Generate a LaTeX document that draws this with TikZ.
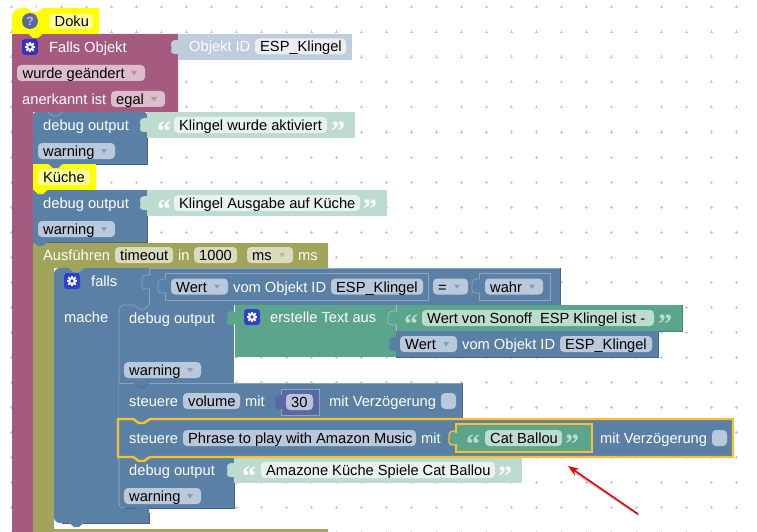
\documentclass[tikz,border=0pt]{standalone}
\usepackage{fontspec}
\setmainfont{Liberation Sans}
\newfontfamily\rsqf{Liberation Serif}[BoldFont={Liberation Serif Bold}]
\usetikzlibrary{arrows.meta,calc}
\definecolor{cblue}{HTML}{5B80A5}
\definecolor{cbluel}{HTML}{8CA6C0}
\definecolor{cblued}{HTML}{486684}
\definecolor{cfb}{HTML}{BAC8DB}
\definecolor{cpink}{HTML}{A55B80}
\definecolor{cfp}{HTML}{DBBDCC}
\definecolor{colive}{HTML}{A0A55B}
\definecolor{cfo}{HTML}{D9DBBD}
\definecolor{cgreen}{HTML}{5BA58C}
\definecolor{cfg}{HTML}{BEDBD0}
\definecolor{clg}{HTML}{BEDBD0}
\definecolor{cflg}{HTML}{E8F2EE}
\definecolor{cpale}{HTML}{BFCCDC}
\definecolor{cfpale}{HTML}{EAEFF4}
\definecolor{cyel}{HTML}{FFFF00}
\definecolor{cfy}{HTML}{FFFF99}
\definecolor{cpurple}{HTML}{5B67A5}
\definecolor{cfpu}{HTML}{BDC2DB}
\definecolor{chl}{HTML}{FBC02D}
\definecolor{cdot}{HTML}{C8C8C8}
\definecolor{cind}{HTML}{3A2FC0}
\definecolor{cico}{HTML}{2F3FD0}
\tikzset{
  x=1pt,y=-1pt,
  lab/.style={inner sep=0pt,anchor=base west,text=white,font=\fontsize{14.67}{16}\selectfont},
  ftxt/.style={inner sep=0pt,anchor=base west,text=black,font=\fontsize{14.67}{16}\selectfont},
  qt/.style={inner sep=0pt,anchor=base west,font=\rsqf\bfseries\fontsize{28}{28}\selectfont},
  hl/.style={draw=chl,line width=2.4pt,line join=miter},
}
% label: name x yc text
\newcommand\rsL[4]{\node[lab] (#1) at (#2,#3+5.5) {#4};}
% field: name x1 x2 yc fill text
\newcommand\rsF[6]{\fill[#5,rounded corners=4pt] (#2,#4-8) rectangle (#3,#4+8);
  \node[ftxt] (#1) at (#2+5,#4+5.5) {#6};}
% dropdown triangle
\newcommand\rsD[3]{\fill[#3] (#1-3,#2-2) -- (#1+3,#2-2) -- (#1,#2+2.5) -- cycle;}
% bottom notch
\newcommand\rsN[3]{\fill[#3] (#1+15,#2-0.5) -- (#1+20,#2+4) -- (#1+25,#2+4) -- (#1+30,#2-0.5) -- cycle;}
% notch outline on same-colour blocks
\newcommand\rsNL[2]{\draw[cbluel,line width=.7pt] (#1+15,#2) -- (#1+20,#2+4) -- (#1+25,#2+4) -- (#1+30,#2);}
% value tab: x y colour
\newcommand\rsT[3]{\fill[#3,rounded corners=1.5pt] (#1+1,#2+6) -- (#1-4,#2+6) -- (#1-7,#2+8) -- (#1-7,#2+12) -- (#1-6,#2+14) -- (#1-7,#2+16) -- (#1-7,#2+19) -- (#1-4,#2+20) -- (#1+1,#2+20) -- cycle;}
% outlined tab
\newcommand\rsTL[3]{\filldraw[fill=#3,draw=cbluel,line width=.7pt,rounded corners=1.5pt] (#1+1,#2+6) -- (#1-4,#2+6) -- (#1-7,#2+8) -- (#1-7,#2+19) -- (#1-4,#2+20) -- (#1+1,#2+20);}
% quotes: name x yc text colour
\newcommand\rsQ[5]{\node[qt,text=#5] (#1) at (#2-1,#3+15) {#4};}
% gear icon
\newcommand\rsG[3]{\fill[#3,rounded corners=3pt] (#1-8,#2-8) rectangle (#1+8,#2+8);
  \foreach \a in {0,45,...,315}{\draw[white,line width=2pt] (#1,#2) -- ++(\a:5.2);}
  \fill[white] (#1,#2) circle (4);\fill[#3] (#1,#2) circle (1.9);}
\begin{document}
\begin{tikzpicture}
\useasboundingbox (0,0) rectangle (757,532);
\fill[white] (0,0) rectangle (757,532);
% grid
\foreach \i in {0,...,29}{\foreach \j in {0,...,21}{
  \draw[cdot,line width=.5pt] ({11+25*\i-1.5},{7+25*\j}) -- ++(3,0) ({11+25*\i},{7+25*\j-1.5}) -- ++(0,3);}}
% pink block
\fill[cpink] (12,34) -- (178,34) -- (178,112) -- (33,112) -- (33,532) -- (12,532) -- cycle;
% Doku
\fill[cyel,rounded corners=2pt] (12,34) -- (12,14) -- (18,8) -- (99,8) -- (99,34) -- cycle;
\fill[white] (27,7.5) -- (32,12) -- (38,12) -- (43,7.5) -- cycle;
\rsN{13}{34}{cyel}
\fill[cfy,rounded corners=4pt] (49,14) rectangle (93,29);
\node[ftxt] (doku) at (54.5,26.5) {Doku};
\fill[cpurple] (30,21) circle (8);
\node[inner sep=0pt,text=cfpu,font=\bfseries\fontsize{12}{12}\selectfont] (help) at (30,21) {?};
% Falls Objekt
\rsG{30}{47}{cind}
\rsL{fo}{49}{47}{Falls Objekt}
\rsF{wg}{17}{145}{73}{cfp}{\hspace{0.5pt}wurde geändert}
\rsD{134}{73}{cpink!70!white}
\rsL{ai}{22}{99}{anerkannt ist}
\rsF{eg}{111}{165}{99}{cfp}{egal}
\rsD{154}{99}{cpink!70!white}
% Objekt ID
\fill[cpale] (178,34) rectangle (352,60);
\rsT{178}{34}{cpale}
\rsL{oid}{189}{46.5}{Objekt ID}
\rsF{oidv}{255}{346}{46.5}{cfpale}{ESP\_Klingel}
% debug 1
\fill[cblue,rounded corners=3pt] (33,164) -- (33,112) -- (147,112) -- (147,164) -- cycle;
\fill[cblue] (33,160) rectangle (147,164);
\draw[cblued,line width=.6pt] (147,112) -- (147,164) -- (33,164);
\fill[clg] (147,112) rectangle (355,138);
\rsT{147}{112}{clg}
\rsNL{33}{112}
\rsL{d1}{43}{125}{debug output}
\rsQ{q1a}{158}{125}{“}{white}
\rsF{d1v}{174}{327}{125}{cflg}{Klingel wurde aktiviert}
\rsQ{q1b}{332}{125}{”}{white}
\rsF{w1}{38}{115}{151}{cfb}{warning}
\rsD{104}{151}{cblue!75!white}
% Küche
\fill[cyel] (33,164) rectangle (96,190);
\rsN{33}{164}{cblue}
\fill[cfy,rounded corners=4pt] (38,169) rectangle (90,185);
\node[ftxt] (kue) at (43,182.5) {Küche};
% debug 2
\fill[cblue] (33,190) rectangle (147,242);
\draw[cblued,line width=.6pt] (147,190) -- (147,242) -- (33,242);
\rsN{18}{190}{cyel}
\fill[clg] (147,190) rectangle (387,216);
\rsT{147}{190}{clg}
\rsL{d2}{43}{203}{debug output}
\rsQ{q2a}{158}{203}{“}{white}
\rsF{d2v}{174}{360}{203}{cflg}{Klingel Ausgabe auf Küche}
\rsQ{q2b}{364}{203}{”}{white}
\rsF{w2}{38}{115}{229}{cfb}{warning}
\rsD{104}{229}{cblue!75!white}
% olive
\fill[colive] (33,243) -- (328,243) -- (328,268) -- (54,268) -- (54,529) -- (328,529) -- (328,532) -- (33,532) -- cycle;
\rsN{18}{242}{cblue}
\rsL{au}{43}{255}{Ausführen}
\rsF{to}{115}{173}{255}{cfo}{timeout}
\rsL{in}{178}{255}{in}
\rsF{tv}{194}{237}{255}{cfo}{1000}
\rsF{tu}{247}{293}{255}{cfo}{ms}
\rsD{282}{255}{colive!75!white}
\rsL{ms}{298}{255}{ms}
% falls (blue C)
\fill[cblue,rounded corners=6pt] (149,268) -- (54,268) -- (54,523) -- (149,523);
\fill[cblue] (70,268) rectangle (149,305) (110,268) rectangle (119,513) (70,305) rectangle (119,523) (119,513) rectangle (149,523);
\draw[cblued,line width=.6pt] (149,513) -- (149,523) -- (62,523);
\rsN{54}{268}{colive}
\draw[cbluel,line width=.7pt] (69,268) -- (74,272) -- (79,272) -- (84,268);
\rsN{54}{523}{cblue}
\rsG{72}{281}{cico}
\rsL{fl}{91}{281}{falls}
\rsL{ma}{64}{317}{mache}
% condition
\fill[cblue] (149,268) rectangle (560,305);
\draw[cbluel,line width=.7pt] (149,268) -- (560,268);
\draw[cblued,line width=.6pt] (560,268) -- (560,305) -- (234,305);
\draw[cbluel,line width=.7pt] (149,268) -- (149,305);
\rsTL{149}{269}{cblue}
\draw[cbluel,line width=.7pt] (165,273) rectangle (428,300);
\rsTL{165}{273}{cblue}
\rsF{wv}{171}{228}{286.5}{cfb}{Wert}
\rsD{217}{286.5}{cblue!75!white}
\rsL{vo}{233}{286.5}{vom Objekt ID}
\rsF{wid}{331}{423}{286.5}{cfb}{ESP\_Klingel}
\rsF{eq}{433}{468}{286.5}{cfb}{=}
\rsD{457}{286.5}{cblue!75!white}
\draw[cbluel,line width=.7pt] (479,273) rectangle (550,300);
\rsTL{479}{273}{cblue}
\rsF{wa}{485}{543}{286.5}{cfb}{wahr}
\rsD{532}{286.5}{cblue!75!white}
% debug 3 (inner)
\fill[cblue] (119,305) rectangle (234,383);
\draw[cblued,line width=.6pt] (119,383) -- (234,383);
\draw[cbluel,line width=.7pt,rounded corners=5pt] (119,505) -- (119,305) -- (134,305);
\rsNL{119}{305}
\fill[cgreen] (234,305) rectangle (396,357);
\draw[white,line width=.4pt] (234,305) -- (234,357);
\rsT{234}{305}{cgreen}
\rsL{d3}{129}{317.5}{debug output}
\rsG{252}{317}{cico}
\rsL{et}{270}{317}{erstelle Text aus}
\rsF{w3}{124}{201}{370}{cfb}{warning}
\rsD{190}{370}{cblue!75!white}
% string
\fill[cgreen] (396,305) rectangle (682,331);
\draw[cblued!60!cgreen,line width=.6pt] (682,305) -- (682,331) -- (396,331);
\draw[white!40!cgreen,line width=.7pt] (396,305) -- (396,357);
\draw[white!40!cgreen,fill=cgreen,line width=.6pt,rounded corners=1.5pt] (397,311) -- (392,311) -- (388,313) -- (388,324) -- (392,325) -- (397,325);
\rsQ{q3a}{405}{318}{“}{cfg}
\rsF{sv}{422}{654}{318}{cfg}{Wert von Sonoff\ \ ESP Klingel ist -}
\rsQ{q3b}{659}{318}{”}{cfg}
% value Wert
\fill[cblue] (396,331) rectangle (658,357);
\draw[cblued,line width=.6pt] (658,331) -- (658,357) -- (396,357);
\rsT{396}{331}{cblue}
\rsF{wv2}{400}{457}{344}{cfb}{Wert}
\rsD{446}{344}{cblue!75!white}
\rsL{vo2}{462}{344}{vom Objekt ID}
\rsF{wid2}{560}{652}{344}{cfb}{ESP\_Klingel}
% steuere volume
\fill[cblue] (119,383) rectangle (462,419);
\draw[cblued,line width=.6pt] (462,383) -- (462,419);
\draw[cbluel,line width=.7pt] (119,383) -- (462,383);
\rsN{119}{383}{cblue}
\draw[cblued,line width=.6pt] (134,383.5) -- (139,387) -- (144,387) -- (149,383.5);
\rsL{s1}{129}{401}{steuere}
\rsF{vol}{183}{240}{401}{cfb}{volume}
\rsL{m1}{245}{401}{mit}
\filldraw[fill=cpurple,draw=cbluel,line width=.6pt] (281,389) rectangle (319,415);
\rsT{282}{389}{cpurple}
\rsF{th}{286}{313}{402}{cfpu}{30}
\rsL{mv1}{329}{401}{mit Verzögerung}
\fill[cfb,rounded corners=4pt] (441,393) rectangle (456,409);
% debug 4 (below highlighted)
\fill[cblue,rounded corners=4pt] (119,440) -- (119,508) -- (234,508) -- (234,440) -- cycle;
\fill[cblue] (180,457) rectangle (234,508);
\draw[cblued,line width=.6pt] (234,457) -- (234,508) -- (124,508);
\draw[cbluel,line width=.7pt,rounded corners=4pt] (119,458) -- (119,508) -- (125,508);
\rsN{119}{508}{cblue}
\fill[clg] (234,457) rectangle (522,483);
\rsT{234}{457}{clg}
\rsL{d4}{129}{470}{debug output}
\rsQ{q4a}{243}{470}{“}{white}
\rsF{d4v}{261}{495}{470}{cflg}{Amazone Küche Spiele Cat Ballou}
\rsQ{q4b}{499}{470}{”}{white}
\rsF{w4}{124}{201}{496}{cfb}{warning}
\rsD{190}{496}{cblue!75!white}
% highlighted
\filldraw[fill=cblue,hl] (118,419) -- (133,419) -- (139,423) -- (144,423) -- (150,419) -- (733,419) -- (733,457) -- (150,457) -- (144,461) -- (139,461) -- (133,457) -- (118,457) -- cycle;
\rsL{s2}{129}{438}{steuere}
\rsF{ph}{183}{416}{438}{cfb}{Phrase to play with Amazon Music}
\rsL{m2}{421}{438}{mit}
\fill[cgreen] (456,424) rectangle (592,452);
\draw[chl,line width=1.3pt,fill=cgreen,rounded corners=1.5pt] (457,431) -- (452,431) -- (449,433) -- (449,444) -- (452,445) -- (457,445);
\draw[chl,line width=1.3pt] (456,424) rectangle (592,452);
\fill[cgreen] (451,432.5) rectangle (458,443.5);
\rsQ{q5a}{467}{438}{“}{cfg}
\rsF{cb}{485}{562}{438}{cfg}{Cat Ballou}
\rsQ{q5b}{566}{438}{”}{cfg}
\rsL{mv2}{600}{438}{mit Verzögerung}
\fill[cfb,rounded corners=4pt] (712,430) rectangle (727,446);
% red arrow
\coordinate (arrowtail) at (638,514);
\coordinate (arrowhead) at (568,466);
\draw[black!25,line width=1.6pt] ($(arrowtail)+(1,1.5)$) -- ($(arrowhead)+(6,6)$);
\draw[red!90!black,line width=1.5pt,-{Stealth[length=11pt,width=8pt]}] (arrowtail) -- (arrowhead);
\end{tikzpicture}
\end{document}
